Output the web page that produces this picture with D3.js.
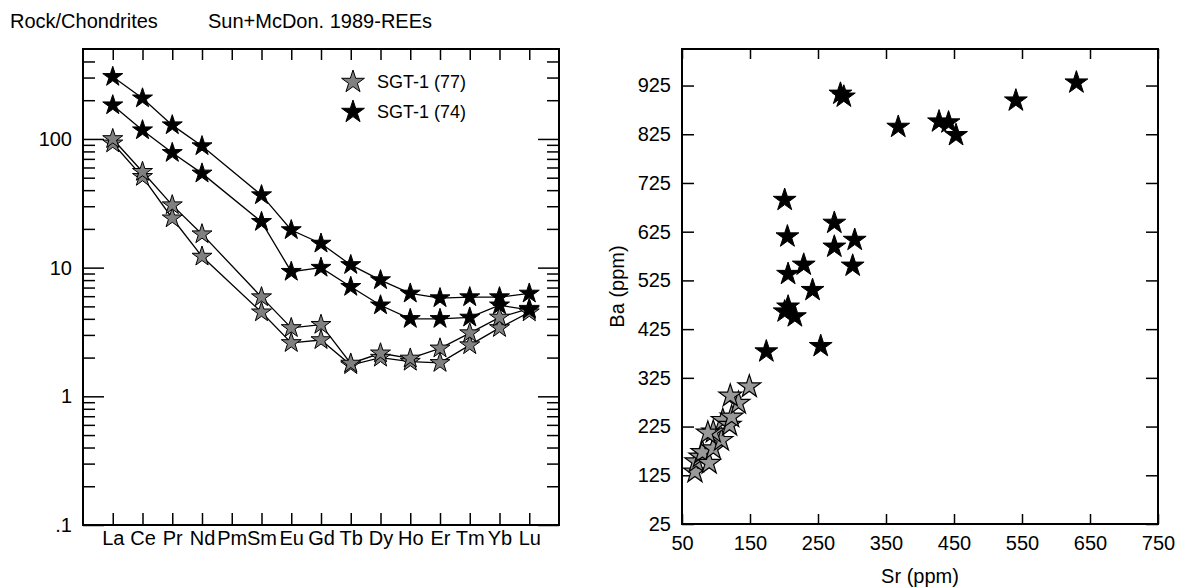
<!DOCTYPE html>
<html>
<head>
<meta charset="utf-8">
<script src="https://cdn.jsdelivr.net/npm/d3@7"></script>
<style>
  body { margin: 0; background: #fff; }
  text { font-family: "Liberation Sans", Arial, sans-serif; fill: #000; }
  .tick line { stroke: #000; stroke-width: 1.5; }
  .domain { display: none; }
</style>
</head>
<body>
<script>
// REE spider diagram, chondrite normalised
var ree = ["La","Ce","Pr","Nd","Pm","Sm","Eu","Gd","Tb","Dy","Ho","Er","Tm","Yb","Lu"];
var sgt74a = [304, 207, 128, 88, null, 36.6, 19.6, 15.4, 10.5, 8.0, 6.3, 5.8, 5.9, 5.9, 6.3];
var sgt74b = [183, 117, 78, 54, null, 22.7, 9.3, 10.0, 7.1, 5.1, 4.0, 4.0, 4.1, 5.1, 4.7];
var sgt77a = [100, 55.6, 30.6, 18.2, null, 5.9, 3.4, 3.6, 1.8, 2.16, 1.97, 2.36, 3.1, 4.1, 4.8];
var sgt77b = [92.5, 50.8, 24.2, 12.2, null, 4.5, 2.6, 2.74, 1.75, 2.0, 1.86, 1.82, 2.5, 3.4, 4.5];
var yMajor = [0.1, 1, 10, 100];

// Sr vs Ba scatter
var srBlack = [283, 288, 201, 274, 205, 274, 304, 368, 428, 442, 453, 541, 630, 229, 206, 301, 242, 206, 201, 216, 174, 254];
var baBlack = [908, 902, 690, 643, 615, 594, 608, 840, 851, 849, 823, 894, 931, 557, 538, 555, 505, 471, 461, 451, 379, 390];
var srGray = [69, 71, 77, 80, 90, 96, 108, 96, 88, 110, 120, 123, 133, 121, 149];
var baGray = [132, 153, 163, 172, 150, 180, 197, 214, 212, 238, 228, 245, 273, 288, 307];
var srTicks = [50, 150, 250, 350, 450, 550, 650, 750];
var baTicks = [25, 125, 225, 325, 425, 525, 625, 725, 825, 925];

var width = 1177, height = 587;
var svg = d3.select("body").append("svg")
            .attr("width", width)
            .attr("height", height);

function star(r) {
  return d3.symbol().type(d3.symbolStar).size(r * r / 0.8908130915292852)();
}

// titles
svg.append("text").attr("x", 10).attr("y", 28).style("font-size", "20px").text("Rock/Chondrites");
svg.append("text").attr("x", 208).attr("y", 28).style("font-size", "20px").text("Sun+McDon. 1989-REEs");

// ---------- left chart ----------
var L = {x0: 83, x1: 559, y0: 49, y1: 525};
var xL = d3.scaleLinear().domain([0, 16]).range([L.x0, L.x1]);
var yL = d3.scaleLog().domain([0.1, 500]).range([L.y1, L.y0]);

var minors = [];
[0.1, 1, 10, 100].forEach(function(d) {
  for (var k = 2; k <= 9; k++) if (d * k < 500) minors.push(d * k);
});
var idx = d3.range(1, 16);

var gl = svg.append("g");
gl.append("g").attr("transform", "translate(" + L.x0 + ",0)")
  .call(d3.axisLeft(yL).tickValues(yMajor).tickSize(-21).tickPadding(11)
        .tickFormat(function(d) { return d === 0.1 ? ".1" : d; }))
  .call(function(g) { g.selectAll("text").style("font-size", "20px").style("font-family", null); });
gl.append("g").attr("transform", "translate(" + L.x0 + ",0)")
  .call(d3.axisLeft(yL).tickValues(minors).tickSize(-12).tickFormat(""));
gl.append("g").attr("transform", "translate(" + L.x1 + ",0)")
  .call(d3.axisRight(yL).tickValues(yMajor).tickSize(-21).tickFormat(""));
gl.append("g").attr("transform", "translate(" + L.x1 + ",0)")
  .call(d3.axisRight(yL).tickValues(minors).tickSize(-12).tickFormat(""));
gl.append("g").attr("transform", "translate(0," + L.y1 + ")")
  .call(d3.axisBottom(xL).tickValues(idx).tickSize(-12).tickPadding(6)
        .tickFormat(function(i) { return ree[i - 1]; }))
  .call(function(g) { g.selectAll("text").style("font-size", "20px").style("font-family", null); });
gl.append("g").attr("transform", "translate(0," + L.y0 + ")")
  .call(d3.axisTop(xL).tickValues(idx).tickSize(-11).tickFormat(""));
gl.append("rect").attr("x", L.x0).attr("y", L.y0)
  .attr("width", L.x1 - L.x0).attr("height", L.y1 - L.y0)
  .attr("fill", "none").attr("stroke", "#000").attr("stroke-width", 2);

var series = [
  {vals: sgt77b, fill: "#808080"},
  {vals: sgt77a, fill: "#808080"},
  {vals: sgt74b, fill: "#000"},
  {vals: sgt74a, fill: "#000"}
];
var line = d3.line()
  .x(function(d) { return xL(d.i); })
  .y(function(d) { return yL(d.v); });

series.forEach(function(s) {
  s.pts = s.vals.map(function(v, i) { return {i: i + 1, v: v}; })
                .filter(function(d) { return d.v != null; });
  gl.append("path").attr("d", line(s.pts))
    .attr("fill", "none").attr("stroke", "#000").attr("stroke-width", 1.3);
});
series.forEach(function(s) {
  gl.selectAll(null).data(s.pts).enter().append("path")
    .attr("d", star(10.5))
    .attr("transform", function(d) { return "translate(" + xL(d.i) + "," + yL(d.v) + ")"; })
    .attr("fill", s.fill).attr("stroke", "#000").attr("stroke-width", 1);
});

// legend
var legend = [{name: "SGT-1 (77)", fill: "#808080"}, {name: "SGT-1 (74)", fill: "#000"}];
var lg = gl.selectAll(".lg").data(legend).enter().append("g")
  .attr("transform", function(d, i) { return "translate(353," + (82 + i * 30) + ")"; });
lg.append("path").attr("d", star(12)).attr("fill", function(d) { return d.fill; })
  .attr("stroke", "#000").attr("stroke-width", 1);
lg.append("text").attr("x", 24).attr("dy", "0.35em").style("font-size", "18px")
  .text(function(d) { return d.name; });

// ---------- right chart ----------
var R = {x0: 682, x1: 1158, y0: 49, y1: 524};
var xR = d3.scaleLinear().domain([50, 750]).range([R.x0, R.x1]);
var yR = d3.scaleLinear().domain([25, 1000]).range([R.y1, R.y0]);

var gr = svg.append("g");
gr.append("g").attr("transform", "translate(" + R.x0 + ",0)")
  .call(d3.axisLeft(yR).tickValues(baTicks).tickSize(-12).tickPadding(11))
  .call(function(g) { g.selectAll("text").style("font-size", "20px").style("font-family", null); });
gr.append("g").attr("transform", "translate(" + R.x1 + ",0)")
  .call(d3.axisRight(yR).tickValues(baTicks).tickSize(-12).tickFormat(""));
gr.append("g").attr("transform", "translate(0," + R.y1 + ")")
  .call(d3.axisBottom(xR).tickValues(srTicks).tickSize(-10).tickPadding(12))
  .call(function(g) { g.selectAll("text").style("font-size", "20px").style("font-family", null); });
gr.append("g").attr("transform", "translate(0," + R.y0 + ")")
  .call(d3.axisTop(xR).tickValues(srTicks).tickSize(-10).tickFormat(""));
gr.append("rect").attr("x", R.x0).attr("y", R.y0)
  .attr("width", R.x1 - R.x0).attr("height", R.y1 - R.y0)
  .attr("fill", "none").attr("stroke", "#000").attr("stroke-width", 2);

gr.append("text").attr("transform", "translate(624," + (R.y0 + R.y1) / 2 + ") rotate(-90)")
  .attr("text-anchor", "middle").style("font-size", "20px").text("Ba (ppm)");
gr.append("text").attr("x", (R.x0 + R.x1) / 2).attr("y", 583)
  .attr("text-anchor", "middle").style("font-size", "20px").text("Sr (ppm)");

gr.selectAll(".g").data(d3.zip(srGray, baGray)).enter().append("path")
  .attr("d", star(12))
  .attr("transform", function(d) { return "translate(" + xR(d[0]) + "," + yR(d[1]) + ")"; })
  .attr("fill", "#999").attr("stroke", "#000").attr("stroke-width", 1.2);
gr.selectAll(".b").data(d3.zip(srBlack, baBlack)).enter().append("path")
  .attr("d", star(12))
  .attr("transform", function(d) { return "translate(" + xR(d[0]) + "," + yR(d[1]) + ")"; })
  .attr("fill", "#000").attr("stroke", "#000").attr("stroke-width", 1);
</script>
</body>
</html>
